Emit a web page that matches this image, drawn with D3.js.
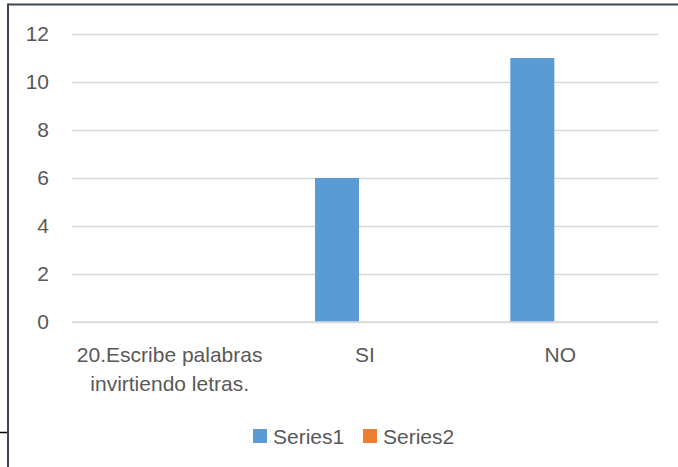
<!DOCTYPE html>
<html>
<head>
<meta charset="utf-8">
<script src="https://cdn.jsdelivr.net/npm/d3@7"></script>
<style>
  html, body { margin: 0; padding: 0; background: #fff; }
  svg { display: block; }
  text { font-family: "Liberation Sans", Arial, sans-serif; }
</style>
</head>
<body>
<svg id="chart" width="678" height="467"></svg>
<script>
const categories = ["20.Escribe palabras invirtiendo letras.", "SI", "NO"];
const categoryLines = [["20.Escribe palabras", "invirtiendo letras."], ["SI"], ["NO"]];
const seriesNames = ["Series1", "Series2"];
const series1 = [0, 6, 11];
const series2 = [0, 0, 0];
const yTicks = [0, 2, 4, 6, 8, 10, 12];
const colors = ["#5b9bd5", "#ed7d31"];

const svg = d3.select("#chart");
const W = 678, H = 467;
const plot = { left: 72, right: 658, top: 34, bottom: 322 };
const FS = "21px";

// frame
svg.append("line").attr("x1", 8).attr("x2", W).attr("y1", 4.5).attr("y2", 4.5)
  .attr("stroke", "#3b4658").attr("stroke-width", 2);
svg.append("line").attr("x1", 8).attr("x2", 8).attr("y1", 3.5).attr("y2", H)
  .attr("stroke", "#3b4658").attr("stroke-width", 2);
svg.append("line").attr("x1", 0).attr("x2", 7).attr("y1", 432.5).attr("y2", 432.5)
  .attr("stroke", "#000").attr("stroke-width", 1.5);

const x0 = d3.scaleBand().domain(categories).range([plot.left, plot.right]).padding(0);
const bw = x0.bandwidth();
const gw = bw * 0.512;
const x1 = d3.scaleBand().domain(seriesNames)
  .range([(bw - gw) / 2, (bw + gw) / 2]).paddingInner(0.214).paddingOuter(0);
const y = d3.scaleLinear().domain([0, 12]).range([plot.bottom, plot.top]);

// gridlines
const yAxis = d3.axisLeft(y).tickValues(yTicks).tickSize(-(plot.right - plot.left)).tickPadding(23)
  .tickFormat(d3.format("d"));
const gy = svg.append("g").attr("transform", `translate(${plot.left},0)`).call(yAxis);
gy.select(".domain").remove();
gy.selectAll(".tick line").attr("stroke", "#d9d9d9").attr("stroke-width", 1.5);
gy.selectAll(".tick text").attr("fill", "#595959").style("font-size", FS)
  .style("font-family", "'Liberation Sans', Arial, sans-serif");

// bars
const data = categories.map((c, i) => ({ c, vals: [series1[i], series2[i]] }));
const groups = svg.append("g").selectAll("g").data(data).join("g")
  .attr("transform", d => `translate(${x0(d.c)},0)`);
groups.selectAll("rect").data(d => d.vals.map((v, j) => ({ v, s: seriesNames[j], j })))
  .join("rect")
  .filter(d => d.v > 0)
  .attr("x", d => x1(d.s))
  .attr("width", x1.bandwidth())
  .attr("y", d => y(d.v))
  .attr("height", d => y(0) - y(d.v))
  .attr("fill", d => colors[d.j]);

// x axis baseline
svg.append("line").attr("x1", plot.left).attr("x2", plot.right)
  .attr("y1", y(0)).attr("y2", y(0)).attr("stroke", "#d9d9d9").attr("stroke-width", 1.5);

// category labels
categories.forEach((c, i) => {
  const t = svg.append("text").attr("x", x0(c) + bw / 2).attr("y", 362)
    .attr("text-anchor", "middle").attr("fill", "#595959").style("font-size", FS);
  categoryLines[i].forEach((line, k) => {
    t.append("tspan").attr("x", x0(c) + bw / 2).attr("dy", k === 0 ? 0 : 28.5).text(line);
  });
});

// legend
const legend = svg.append("g");
const legX = [253, 363];
seriesNames.forEach((s, i) => {
  legend.append("rect").attr("x", legX[i]).attr("y", 429).attr("width", 14).attr("height", 14)
    .attr("fill", colors[i]);
  legend.append("text").attr("x", legX[i] + 20).attr("y", 444).attr("fill", "#595959")
    .style("font-size", FS).text(s);
});
</script>
</body>
</html>
